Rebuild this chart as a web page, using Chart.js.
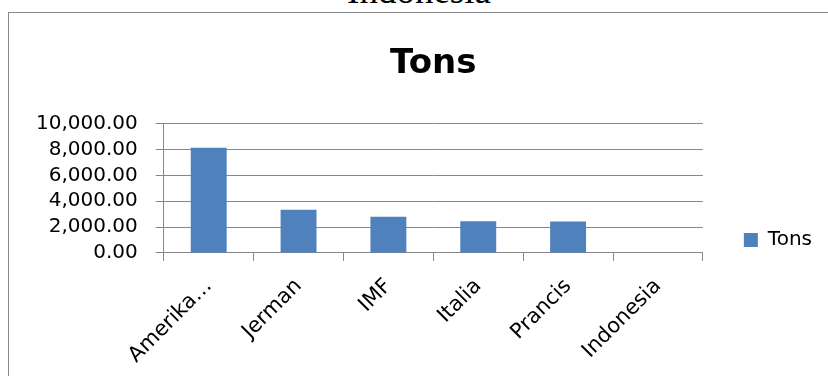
<!DOCTYPE html>
<html>
<head>
<meta charset="utf-8">
<script src="https://cdn.jsdelivr.net/npm/chart.js@4.4.0/dist/chart.umd.min.js"></script>
<style>
  html, body { margin: 0; padding: 0; background: #fff; width: 828px; height: 376px; overflow: hidden; position: relative; }
  #doc-title { position: absolute; left: 0; width: 838px; top: -27px; text-align: center; font-family: "Liberation Serif", serif; font-size: 37px; line-height: 36px; color: #000; }
  #frame { position: absolute; left: 8px; top: 12px; width: 860px; height: 470px; border: 1px solid #888; box-sizing: border-box; background: #fff; }
  #c { position: absolute; left: 0; top: 0; }
</style>
</head>
<body>
<div id="doc-title">Indonesia</div>
<div id="frame"><canvas id="c" width="813" height="368"></canvas></div>
<script>
const categories = ["Amerika…", "Jerman", "IMF", "Italia", "Prancis", "Indonesia"];
const seriesName = "Tons";
const tons = [8150, 3350, 2800, 2450, 2430, 0];
const yTicks = [0, 2000, 4000, 6000, 8000, 10000];

const gridColor = "#878787";
const fontFam = "'DejaVu Sans', sans-serif";

new Chart(document.getElementById("c"), {
  type: "bar",
  data: {
    labels: categories,
    datasets: [{
      label: seriesName,
      data: tons,
      backgroundColor: "#4f81bd",
      borderWidth: 0,
      barPercentage: 0.4,
      categoryPercentage: 1.0
    }]
  },
  options: {
    responsive: false,
    animation: false,
    devicePixelRatio: 1,
    layout: { padding: { left: 9, right: 0, top: 0, bottom: 0 } },
    plugins: {
      title: {
        display: true,
        fullSize: false,
        text: "Tons",
        color: "#000",
        font: { family: fontFam, size: 34, weight: "bold" },
        padding: { top: 31, bottom: 39 }
      },
      legend: {
        display: true,
        position: "right",
        fullSize: true,
        align: "start",
        title: { display: true, text: " ", font: { size: 10 }, padding: { top: 164, bottom: 0 } },
        labels: {
          color: "#000",
          font: { family: fontFam, size: 20 },
          boxWidth: 14,
          boxHeight: 14,
          padding: 41
        }
      },
      tooltip: { enabled: false }
    },
    scales: {
      x: {
        offset: true,
        grid: { offset: true, drawOnChartArea: false, drawTicks: true, tickLength: 8, color: gridColor, lineWidth: 1 },
        border: { display: true, color: gridColor, width: 1 },
        ticks: {
          color: "#000",
          font: { family: fontFam, size: 21 },
          maxRotation: 45, minRotation: 45,
          autoSkip: false,
          padding: 13,
          labelOffset: 0
        }
      },
      y: {
        min: yTicks[0],
        max: yTicks[yTicks.length - 1],
        afterBuildTicks: (axis) => { axis.ticks = yTicks.map(v => ({ value: v })); },
        grid: { drawOnChartArea: true, drawTicks: true, tickLength: 8, color: gridColor, lineWidth: 1 },
        border: { display: true, color: gridColor, width: 1 },
        ticks: {
          color: "#000",
          autoSkip: false,
          font: { family: fontFam, size: 20 },
          padding: 18,
          callback: (v) => Number(v).toLocaleString("en-US", { minimumFractionDigits: 2, maximumFractionDigits: 2 })
        }
      }
    }
  }
});
</script>
</body>
</html>
